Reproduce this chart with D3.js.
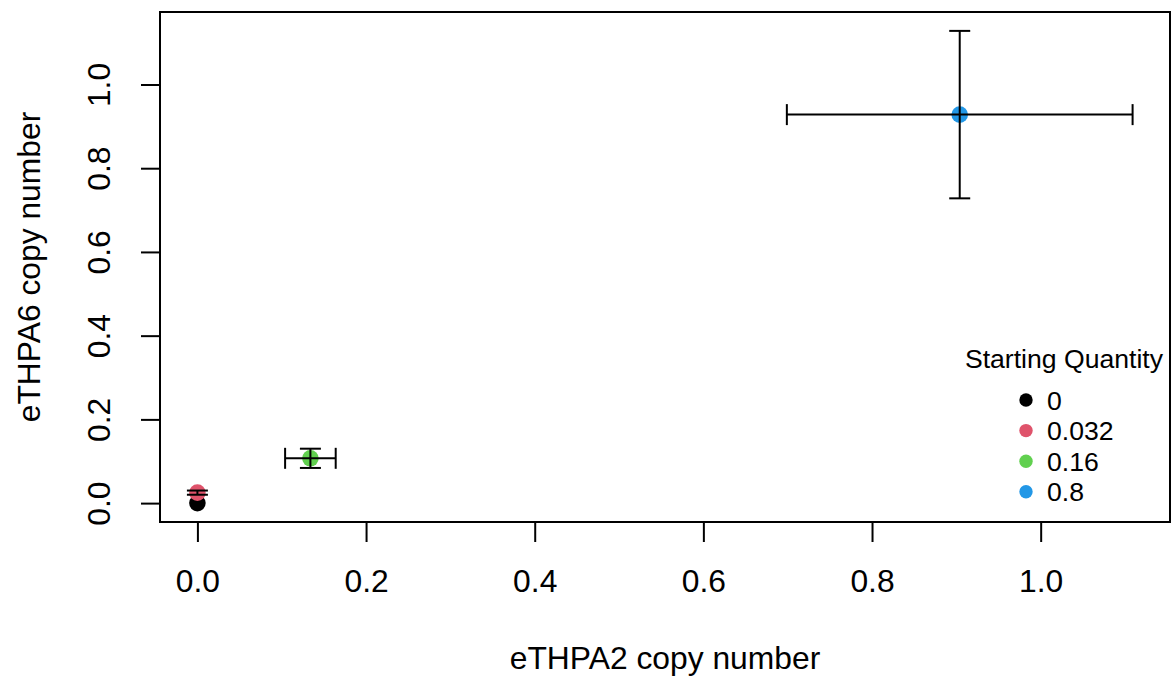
<!DOCTYPE html>
<html>
<head>
<meta charset="utf-8">
<script src="https://cdn.jsdelivr.net/npm/d3@7"></script>
<style>
  body { margin: 0; background: #fff; }
  text { font-family: "Liberation Sans", Arial, sans-serif; fill: #000; }
</style>
</head>
<body>
<svg width="1172" height="679"></svg>
<script>
// data
var quantities = ["0", "0.032", "0.16", "0.8"];
var colors = ["#000000", "#DF536B", "#61D04F", "#2297E6"];
var xMean = [0, 0, 0.134, 0.904];
var yMean = [0, 0.025, 0.107, 0.928];
var xErr = [0, 0, 0.030, 0.205];
var yErr = [0, 0.005, 0.023, 0.200];
var ticks = [0, 0.2, 0.4, 0.6, 0.8, 1.0];

var svg = d3.select("svg"),
    margin = {top: 12, right: 2, bottom: 157, left: 160},
    width = +svg.attr("width") - margin.left - margin.right,
    height = +svg.attr("height") - margin.top - margin.bottom;

var axisFont = "31.8px", legendFont = "26.6px";

var data = quantities.map(function(q, i) {
  return {q: q, color: colors[i], x: xMean[i], y: yMean[i], xe: xErr[i], ye: yErr[i]};
});

// R style 4% expansion of the range
function rlim(lo, hi) {
  var pad = (hi - lo) * 0.04;
  return [lo - pad, hi + pad];
}

var x = d3.scaleLinear()
    .domain(rlim(d3.min(data, function(d) { return d.x - d.xe; }),
                 d3.max(data, function(d) { return d.x + d.xe; })))
    .range([margin.left, margin.left + width]);

var y = d3.scaleLinear()
    .domain(rlim(d3.min(data, function(d) { return d.y - d.ye; }),
                 d3.max(data, function(d) { return d.y + d.ye; })))
    .range([margin.top + height, margin.top]);

// axes
var xAxis = svg.append("g")
    .attr("transform", "translate(0," + (margin.top + height) + ")")
    .call(d3.axisBottom(x).tickValues(ticks).tickFormat(d3.format(".1f")).tickSize(20).tickSizeOuter(0));
xAxis.select(".domain").remove();
xAxis.selectAll("line").attr("stroke", "#000").attr("stroke-width", 2);
xAxis.selectAll("text")
    .attr("y", 70).attr("dy", null)
    .style("font-size", axisFont).attr("font-family", null);

var yAxis = svg.append("g")
    .attr("transform", "translate(" + margin.left + ",0)")
    .call(d3.axisLeft(y).tickValues(ticks).tickFormat(d3.format(".1f")).tickSize(19).tickSizeOuter(0));
yAxis.select(".domain").remove();
yAxis.selectAll("line").attr("stroke", "#000").attr("stroke-width", 2);
yAxis.selectAll("text")
    .attr("x", null).attr("dy", null)
    .attr("text-anchor", "middle")
    .attr("transform", "translate(-50,0) rotate(-90)")
    .style("font-size", axisFont).attr("font-family", null);

// box
svg.append("rect")
    .attr("x", margin.left).attr("y", margin.top)
    .attr("width", width).attr("height", height)
    .attr("fill", "none").attr("stroke", "#000").attr("stroke-width", 2);

// axis titles
svg.append("text")
    .attr("x", margin.left + width / 2).attr("y", 669)
    .attr("text-anchor", "middle")
    .style("font-size", axisFont)
    .text("eTHPA2 copy number");

svg.append("text")
    .attr("transform", "translate(40," + (margin.top + height / 2) + ") rotate(-90)")
    .attr("text-anchor", "middle")
    .style("font-size", axisFont)
    .text("eTHPA6 copy number");

// points
var g = svg.append("g");
g.selectAll("circle")
  .data(data)
  .enter().append("circle")
    .attr("cx", function(d) { return x(d.x); })
    .attr("cy", function(d) { return y(d.y); })
    .attr("r", 8.3)
    .attr("fill", function(d) { return d.color; });

// error bars
var cap = 10.5;
var eb = svg.append("g").attr("stroke", "#000").attr("stroke-width", 2).attr("fill", "none");
data.filter(function(d) { return d.ye > 0; }).forEach(function(d) {
  var cx = x(d.x), y0 = y(d.y - d.ye), y1 = y(d.y + d.ye);
  eb.append("line").attr("x1", cx).attr("x2", cx).attr("y1", y0).attr("y2", y1);
  eb.append("line").attr("x1", cx - cap).attr("x2", cx + cap).attr("y1", y0).attr("y2", y0);
  eb.append("line").attr("x1", cx - cap).attr("x2", cx + cap).attr("y1", y1).attr("y2", y1);
});
data.filter(function(d) { return d.xe > 0; }).forEach(function(d) {
  var cy = y(d.y), x0 = x(d.x - d.xe), x1 = x(d.x + d.xe);
  eb.append("line").attr("x1", x0).attr("x2", x1).attr("y1", cy).attr("y2", cy);
  eb.append("line").attr("x1", x0).attr("x2", x0).attr("y1", cy - cap).attr("y2", cy + cap);
  eb.append("line").attr("x1", x1).attr("x2", x1).attr("y1", cy - cap).attr("y2", cy + cap);
});

// legend
var legend = svg.append("g");
legend.append("text")
    .attr("x", 1064).attr("y", 368)
    .attr("text-anchor", "middle")
    .style("font-size", legendFont)
    .text("Starting Quantity");

var items = legend.selectAll(".item")
  .data(data)
  .enter().append("g")
    .attr("class", "item")
    .attr("transform", function(d, i) { return "translate(1026," + (400 + i * 30.6) + ")"; });
items.append("circle").attr("r", 6.7).attr("fill", function(d) { return d.color; });
items.append("text")
    .attr("x", 21).attr("y", 9.5)
    .style("font-size", legendFont)
    .text(function(d) { return d.q; });
</script>
</body>
</html>
